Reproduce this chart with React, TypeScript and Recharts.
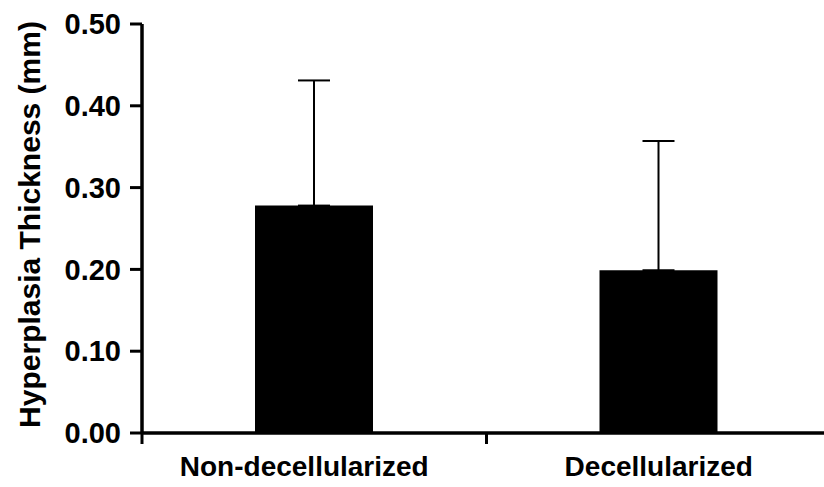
import { BarChart, Bar, XAxis, YAxis, ErrorBar } from 'recharts'

const groups = ['Non-decellularized', 'Decellularized']
const thickness = [0.278, 0.199]
const sdUpper = [0.153, 0.158]
const yTicks = [0, 0.1, 0.2, 0.3, 0.4, 0.5]

const data = groups.map((name, i) => ({
  name,
  value: thickness[i],
  err: [0, sdUpper[i]],
}))

const FONT = '"Liberation Sans", Arial, Helvetica, sans-serif'
const X_TICK = 11
const X_MARGIN = 12

function GroupTick(props: any) {
  const { x, y, payload, index, visibleTicksCount } = props
  const axisY = y - X_TICK - X_MARGIN
  const half = payload.offset ?? 0
  const last = index === visibleTicksCount - 1
  return (
    <g>
      <line x1={x - half} x2={x - half} y1={axisY} y2={axisY + X_TICK} stroke="#000" strokeWidth={3} />
      {last && (
        <line x1={x + half} x2={x + half} y1={axisY} y2={axisY + X_TICK} stroke="#000" strokeWidth={3} />
      )}
      <text
        x={index === 0 ? x - 10 : x}
        y={axisY + 43}
        textAnchor="middle"
        fontFamily={FONT}
        fontWeight="bold"
        fontSize={28}
        fill="#000"
      >
        {payload.value}
      </text>
    </g>
  )
}

function YTitle(props: any) {
  const { viewBox } = props
  const cy = viewBox.y + viewBox.height / 2 - 4
  const cx = 40
  return (
    <text
      x={cx}
      y={cy}
      transform={`rotate(-90, ${cx}, ${cy})`}
      textAnchor="middle"
      fontFamily={FONT}
      fontWeight="bold"
      fontSize={30}
      fill="#000"
    >
      Hyperplasia Thickness (mm)
    </text>
  )
}

export default function App() {
  return (
    <div
      style={{
        position: 'absolute',
        left: 0,
        top: 0,
        width: 824,
        height: 487,
        overflow: 'hidden',
        background: '#fff',
      }}
    >
      <BarChart
        width={840}
        height={487}
        data={data}
        margin={{ top: 24, right: 9, left: 0, bottom: 0 }}
      >
        <XAxis
          dataKey="name"
          height={54}
          axisLine={{ stroke: '#000', strokeWidth: 3.5 }}
          tickLine={false}
          tickSize={X_TICK}
          tickMargin={X_MARGIN}
          tick={<GroupTick />}
          interval={0}
        />
        <YAxis
          width={142}
          domain={[0, 0.5]}
          ticks={yTicks}
          tickFormatter={(v: number) => v.toFixed(2)}
          axisLine={{ stroke: '#000', strokeWidth: 3.5 }}
          tickLine={{ stroke: '#000', strokeWidth: 3 }}
          tickSize={12}
          tickMargin={9}
          tick={{ fontSize: 29, fontWeight: 'bold', fill: '#000', fontFamily: FONT }}
          label={<YTitle />}
        />
        <Bar dataKey="value" fill="#000" barSize={118} isAnimationActive={false}>
          <ErrorBar dataKey="err" direction="y" width={16} stroke="#000" strokeWidth={2} isAnimationActive={false} />
        </Bar>
      </BarChart>
    </div>
  )
}
